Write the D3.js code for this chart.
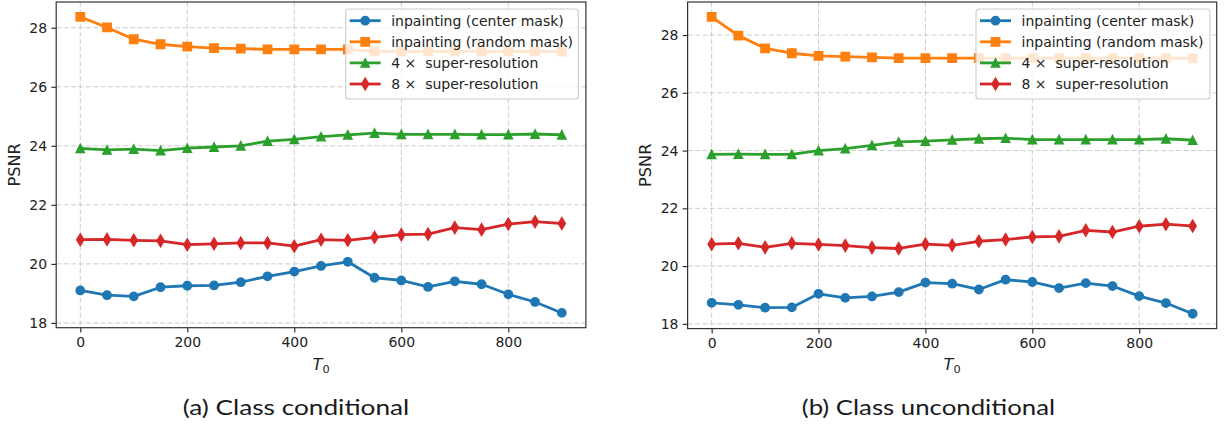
<!DOCTYPE html>
<html>
<head>
<meta charset="utf-8">
<script src="https://cdn.jsdelivr.net/npm/d3@7"></script>
<style>
  html, body { margin: 0; padding: 0; background: #fff; }
  svg { display: block; }
</style>
</head>
<body>
<svg id="chart" width="1225" height="427"></svg>
<script>
// ---- data ----
const T0 = [0, 50, 100, 150, 200, 250, 300, 350, 400, 450, 500, 550, 600, 650, 700, 750, 800, 850, 900];
const seriesNames = ["inpainting (center mask)", "inpainting (random mask)", "4 \u00d7  super-resolution", "8 \u00d7  super-resolution"];
const seriesColors = ["#1f77b4", "#ff7f0e", "#2ca02c", "#d62728"];
const seriesMarkers = ["circle", "square", "triangle", "thin_diamond"];

// (a) class conditional
const condCenter = [19.10, 18.94, 18.90, 19.21, 19.26, 19.27, 19.38, 19.58, 19.74, 19.93, 20.07, 19.53, 19.44, 19.22, 19.41, 19.31, 18.97, 18.71, 18.34];
const condRandom = [28.37, 28.01, 27.61, 27.44, 27.36, 27.31, 27.29, 27.27, 27.27, 27.27, 27.27, 27.20, 27.20, 27.20, 27.20, 27.20, 27.20, 27.20, 27.19];
const condSR4 = [23.91, 23.86, 23.89, 23.84, 23.92, 23.96, 24.00, 24.16, 24.22, 24.31, 24.37, 24.43, 24.39, 24.39, 24.39, 24.38, 24.38, 24.40, 24.37];
const condSR8 = [20.82, 20.83, 20.80, 20.78, 20.65, 20.68, 20.71, 20.71, 20.60, 20.82, 20.80, 20.90, 20.99, 21.01, 21.23, 21.16, 21.35, 21.43, 21.37];

// (b) class unconditional
const uncondCenter = [18.73, 18.66, 18.56, 18.57, 19.04, 18.90, 18.95, 19.10, 19.43, 19.39, 19.19, 19.53, 19.45, 19.24, 19.41, 19.31, 18.96, 18.72, 18.35];
const uncondRandom = [28.63, 27.98, 27.54, 27.37, 27.28, 27.25, 27.23, 27.20, 27.20, 27.20, 27.20, 27.20, 27.20, 27.20, 27.20, 27.20, 27.20, 27.20, 27.19];
const uncondSR4 = [23.87, 23.88, 23.87, 23.87, 24.00, 24.07, 24.18, 24.30, 24.33, 24.37, 24.41, 24.43, 24.38, 24.38, 24.38, 24.38, 24.38, 24.41, 24.36];
const uncondSR8 = [20.76, 20.79, 20.65, 20.79, 20.75, 20.71, 20.64, 20.61, 20.76, 20.72, 20.86, 20.92, 21.01, 21.03, 21.24, 21.18, 21.38, 21.45, 21.39];

const xTicks = [0, 200, 400, 600, 800];
const yTicks = [18, 20, 22, 24, 26, 28];
const xLabel = "T";
const xLabelSub = "0";
const yLabel = "PSNR";
const captions = ["(a) Class conditional", "(b) Class unconditional"];

// ---- layout ----
const FONT = "'DejaVu Sans', sans-serif";
const svg = d3.select("#chart");
const panels = [
  { series: [condCenter, condRandom, condSR4, condSR8], x0: 56.2, x1: 585.9, yTop: 2, yBot: 327.7,
    ylabX: 20.4, legend: { x: 345.7, y: 9, w: 232.6, h: 90 }, caption: captions[0], capX: 296, capW: 226.6 },
  { series: [uncondCenter, uncondRandom, uncondSR4, uncondSR8], x0: 687.6, x1: 1216.7, yTop: 2, yBot: 328.6,
    ylabX: 650.9, legend: { x: 976, y: 9, w: 234, h: 90 }, caption: captions[1], capX: 928.4, capW: 253.3 }
];

const MS = 8.4;   // marker size px
const LW = 2.8;   // line width px

function markerPath(type) {
  const h = MS / 2;
  if (type === "square") return `M${-h},${-h}H${h}V${h}H${-h}Z`;
  if (type === "triangle") return `M0,${-h}L${h},${h}L${-h},${h}Z`;
  if (type === "thin_diamond") {
    const dy = MS * 0.7071, dx = MS * 0.7071 * 0.6;
    return `M0,${-dy}L${dx},0L0,${dy}L${-dx},0Z`;
  }
  return null;
}
function drawMarker(g, type, color, cx, cy) {
  if (type === "circle") {
    g.append("circle").attr("cx", cx).attr("cy", cy).attr("r", MS / 2)
      .attr("fill", color).attr("stroke", color).attr("stroke-width", 1.4);
  } else {
    g.append("path").attr("d", markerPath(type)).attr("transform", `translate(${cx},${cy})`)
      .attr("fill", color).attr("stroke", color).attr("stroke-width", 1.4).attr("stroke-linejoin", "miter");
  }
}

panels.forEach(p => {
  const all = p.series.flat();
  const mn = d3.min(all), mx = d3.max(all), m = (mx - mn) * 0.05;
  const x = d3.scaleLinear().domain([-45, 945]).range([p.x0, p.x1]);
  const y = d3.scaleLinear().domain([mn - m, mx + m]).range([p.yBot, p.yTop]);
  const g = svg.append("g");

  // grid
  const grid = g.append("g");
  xTicks.forEach(t => grid.append("line").attr("x1", x(t)).attr("x2", x(t)).attr("y1", p.yTop).attr("y2", p.yBot));
  yTicks.forEach(t => grid.append("line").attr("x1", p.x0).attr("x2", p.x1).attr("y1", y(t)).attr("y2", y(t)));
  grid.selectAll("line").attr("stroke", "#cccccc").attr("stroke-width", 1).attr("stroke-dasharray", "5,2.4");

  // axes
  const ax = g.append("g").attr("transform", `translate(0,${p.yBot})`)
    .call(d3.axisBottom(x).tickValues(xTicks).tickSize(4.9).tickPadding(4.2).tickFormat(d3.format("d")));
  const ay = g.append("g").attr("transform", `translate(${p.x0},0)`)
    .call(d3.axisLeft(y).tickValues(yTicks).tickSize(4.9).tickPadding(4.2).tickFormat(d3.format("d")));
  [ax, ay].forEach(a => {
    a.select(".domain").remove();
    a.selectAll(".tick line").attr("stroke", "#222").attr("stroke-width", 1.1);
    a.selectAll(".tick text").attr("font-size", 14).attr("font-family", FONT).attr("fill", "#222");
  });

  // series
  p.series.forEach((vals, i) => {
    const sg = g.append("g");
    const line = d3.line().x((d, j) => x(T0[j])).y(d => y(d));
    sg.append("path").attr("d", line(vals)).attr("fill", "none")
      .attr("stroke", seriesColors[i]).attr("stroke-width", LW).attr("stroke-linejoin", "round").attr("stroke-linecap", "square");
    vals.forEach((v, j) => drawMarker(sg, seriesMarkers[i], seriesColors[i], x(T0[j]), y(v)));
  });

  // spines
  g.append("rect").attr("x", p.x0).attr("y", p.yTop).attr("width", p.x1 - p.x0).attr("height", p.yBot - p.yTop)
    .attr("fill", "none").attr("stroke", "#333").attr("stroke-width", 1.2);

  // legend
  const L = p.legend;
  const lg = g.append("g");
  lg.append("rect").attr("x", L.x).attr("y", L.y).attr("width", L.w).attr("height", L.h).attr("rx", 3)
    .attr("fill", "#fff").attr("fill-opacity", 0.8).attr("stroke", "#cccccc").attr("stroke-width", 1.1);
  seriesNames.forEach((name, i) => {
    const cy = L.y + 11.7 + i * 21.1;
    const hx0 = L.x + 4, hx1 = L.x + 35;
    lg.append("line").attr("x1", hx0).attr("x2", hx1).attr("y1", cy).attr("y2", cy)
      .attr("stroke", seriesColors[i]).attr("stroke-width", LW);
    drawMarker(lg, seriesMarkers[i], seriesColors[i], (hx0 + hx1) / 2, cy);
    lg.append("text").attr("x", L.x + 45.5).attr("y", cy).attr("dy", "0.36em")
      .attr("font-size", 14).attr("font-family", FONT).attr("fill", "#222")
      .style("white-space", "pre").text(name);
  });

  // axis labels
  const xl = g.append("text").attr("x", (p.x0 + p.x1) / 2).attr("y", 370).attr("text-anchor", "middle")
    .attr("font-size", 16.2).attr("font-family", FONT).attr("fill", "#222");
  xl.append("tspan").attr("font-style", "italic").text(xLabel);
  xl.append("tspan").attr("font-size", 11.3).attr("dy", 2.6).text(xLabelSub);
  g.append("text").attr("transform", `translate(${p.ylabX},${(p.yTop + p.yBot) / 2}) rotate(-90)`)
    .attr("text-anchor", "middle").attr("font-size", 16.2).attr("font-family", FONT).attr("fill", "#222").text(yLabel);

  // caption
  g.append("text").attr("x", p.capX).attr("y", 414.5).attr("text-anchor", "middle")
    .attr("font-family", "Lato, 'Open Sans', sans-serif").attr("font-size", 22).attr("font-weight", 400)
    .attr("fill", "#1a1a1a")
    .attr("textLength", p.capW).attr("lengthAdjust", "spacingAndGlyphs")
    .text(p.caption);
});
</script>
</body>
</html>
